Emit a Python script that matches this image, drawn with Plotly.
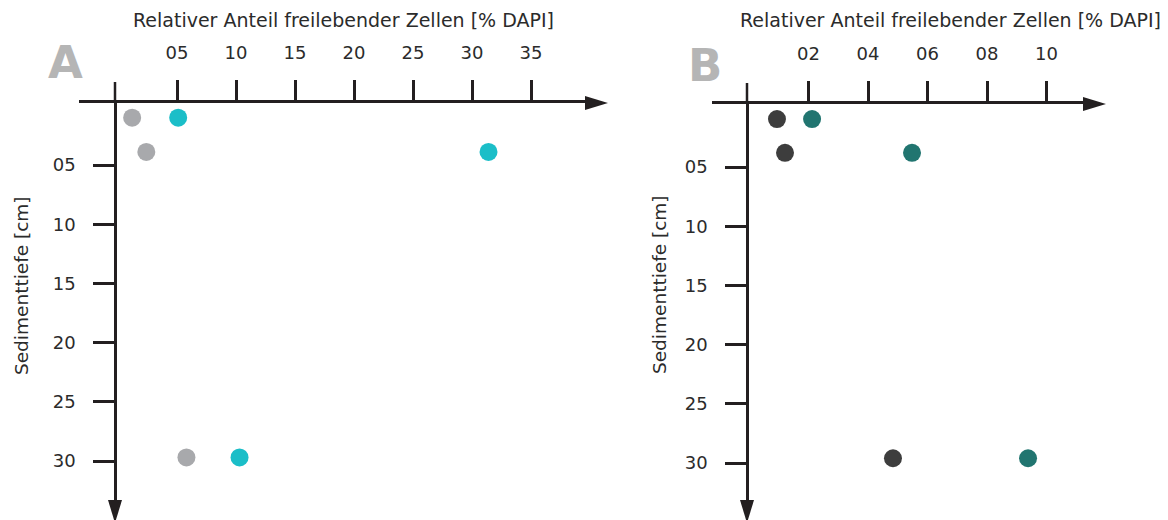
import plotly.graph_objects as go

# ---------------- data ----------------
# Panel A
a_grey_x = [1.2, 2.4, 5.8]
a_grey_depth = [1.0, 3.9, 29.7]
a_cyan_x = [5.1, 31.4, 10.3]
a_cyan_depth = [1.0, 3.9, 29.7]
a_xtick_vals = [5, 10, 15, 20, 25, 30, 35]
a_xtick_text = ["05", "10", "15", "20", "25", "30", "35"]

# Panel B
b_dark_x = [0.94, 1.21, 4.84]
b_dark_depth = [0.95, 3.8, 29.6]
b_teal_x = [2.12, 5.48, 9.38]
b_teal_depth = [0.95, 3.8, 29.6]
b_xtick_vals = [2, 4, 6, 8, 10]
b_xtick_text = ["02", "04", "06", "08", "10"]

ytick_vals = [5, 10, 15, 20, 25, 30]
ytick_text = ["05", "10", "15", "20", "25", "30"]

x_title = "Relativer Anteil freilebender Zellen [% DAPI]"
y_title = "Sedimenttiefe [cm]"

# ---------------- layout constants (pixels) ----------------
W, H = 1168, 520
FONT = "DejaVu Sans"
TXT = "#2b2b2b"
LINE = "#231f20"
LW = 2.5

panels = {
    "A": dict(h_left=79, h_right=586, h_y=103, v_x=115, v_top=82, v_bottom=501,
              x0=118.0, xpp=11.8, y0=105.8, ypp=11.84,
              letter=(65, 62), title=(343, 20), ytitle=(21, 286)),
    "B": dict(h_left=712, h_right=1084, h_y=104, v_x=747, v_top=83, v_bottom=501,
              x0=749.0, xpp=29.75, y0=107.8, ypp=11.84,
              letter=(705, 65), title=(950, 20), ytitle=(659, 285)),
}


def px(x):
    return x / W


def py(y):
    return 1 - y / H


fig = go.Figure()

fig.add_trace(go.Scatter(x=a_grey_x, y=a_grey_depth, mode="markers",
                         marker=dict(size=18, color="#a8a9ac"), xaxis="x", yaxis="y"))
fig.add_trace(go.Scatter(x=a_cyan_x, y=a_cyan_depth, mode="markers",
                         marker=dict(size=18, color="#1bbec8"), xaxis="x", yaxis="y"))
fig.add_trace(go.Scatter(x=b_dark_x, y=b_dark_depth, mode="markers",
                         marker=dict(size=18, color="#3d3d3d"), xaxis="x2", yaxis="y2"))
fig.add_trace(go.Scatter(x=b_teal_x, y=b_teal_depth, mode="markers",
                         marker=dict(size=18, color="#217570"), xaxis="x2", yaxis="y2"))

shapes = []
annotations = []
axes = {}
for key, (p, xv, xt, xa, ya) in {
    "A": (panels["A"], a_xtick_vals, a_xtick_text, "xaxis", "yaxis"),
    "B": (panels["B"], b_xtick_vals, b_xtick_text, "xaxis2", "yaxis2"),
}.items():
    xr = [(p["h_left"] - p["x0"]) / p["xpp"], (p["h_right"] - p["x0"]) / p["xpp"]]
    yr = [(p["v_bottom"] - p["y0"]) / p["ypp"], (p["h_y"] - p["y0"]) / p["ypp"]]
    yname = "y" if key == "A" else "y2"
    axes[xa] = dict(
        domain=[px(p["h_left"]), px(p["h_right"])], range=xr, side="top",
        anchor=yname, showline=True, linecolor=LINE, linewidth=LW,
        ticks="outside", ticklen=20, tickwidth=LW, tickcolor=LINE,
        tickvals=xv, ticktext=xt, ticklabelstandoff=14,
        tickfont=dict(family=FONT, size=18, color=TXT),
        showgrid=False, zeroline=False, fixedrange=True,
    )
    axes[ya] = dict(
        domain=[py(p["v_bottom"]), py(p["h_y"])], range=yr,
        anchor="free", position=px(p["v_x"]), showline=True, linecolor=LINE,
        linewidth=LW, ticks="outside", ticklen=21, tickwidth=LW, tickcolor=LINE,
        tickvals=ytick_vals, ticktext=ytick_text, ticklabelstandoff=14,
        tickfont=dict(family=FONT, size=18, color=TXT),
        showgrid=False, zeroline=False, fixedrange=True,
    )
    # vertical axis extension above the horizontal axis
    shapes.append(dict(type="line", xref="paper", yref="paper",
                       x0=px(p["v_x"]), x1=px(p["v_x"]), y0=py(p["h_y"]), y1=py(p["v_top"]),
                       line=dict(color=LINE, width=LW)))
    # arrow heads
    hx, hy = p["h_right"], p["h_y"]
    shapes.append(dict(type="path", xref="paper", yref="paper",
                       path=f"M {px(hx - 1)},{py(hy - 7)} L {px(hx + 22)},{py(hy)} L {px(hx - 1)},{py(hy + 7)} Z",
                       fillcolor=LINE, line=dict(width=0)))
    vx, vy = p["v_x"], p["v_bottom"]
    shapes.append(dict(type="path", xref="paper", yref="paper",
                       path=f"M {px(vx - 7)},{py(vy - 1)} L {px(vx)},{py(vy + 22)} L {px(vx + 7)},{py(vy - 1)} Z",
                       fillcolor=LINE, line=dict(width=0)))
    # panel letter
    annotations.append(dict(text=f"<b>{key}</b>", xref="paper", yref="paper",
                            x=px(p["letter"][0]), y=py(p["letter"][1]),
                            xanchor="center", yanchor="middle", showarrow=False,
                            font=dict(family=FONT, size=45, color="#b5b5b5")))
    annotations.append(dict(text=x_title, xref="paper", yref="paper",
                            x=px(p["title"][0]), y=py(p["title"][1]),
                            xanchor="center", yanchor="middle", showarrow=False,
                            font=dict(family=FONT, size=19, color=TXT)))
    annotations.append(dict(text=y_title, xref="paper", yref="paper", textangle=-90,
                            x=px(p["ytitle"][0]), y=py(p["ytitle"][1]),
                            xanchor="center", yanchor="middle", showarrow=False,
                            font=dict(family=FONT, size=18.5, color=TXT)))

fig.update_layout(
    width=W, height=H, margin=dict(l=0, r=0, t=0, b=0),
    paper_bgcolor="white", plot_bgcolor="white", showlegend=False,
    shapes=shapes, annotations=annotations, **axes,
)

fig.write_html("out.html")
